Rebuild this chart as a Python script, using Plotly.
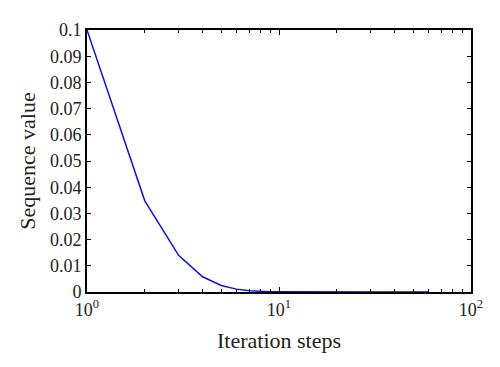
import plotly.graph_objects as go

iterations = [1, 2, 3, 4, 5, 6, 7, 8, 9, 10, 12, 15, 20, 30, 40, 50, 60]
values = [0.1, 0.0348, 0.014, 0.0058, 0.0025, 0.0011, 0.0005, 0.0002, 0.0001, 0.00005,
          0.00001, 0.0, 0.0, 0.0, 0.0, 0.0, 0.0]

x_tickvals = [1, 10, 100]
x_ticktext = ["10<sup>0</sup>", "10<sup>1</sup>", "10<sup>2</sup>"]
x_minor = [2, 3, 4, 5, 6, 7, 8, 9, 20, 30, 40, 50, 60, 70, 80, 90]
y_tickvals = [0, 0.01, 0.02, 0.03, 0.04, 0.05, 0.06, 0.07, 0.08, 0.09, 0.1]
y_ticktext = ["0", "0.01", "0.02", "0.03", "0.04", "0.05", "0.06", "0.07", "0.08", "0.09", "0.1"]

fig = go.Figure(go.Scatter(x=iterations, y=values, mode="lines",
                           line=dict(color="#1010e0", width=1.5)))

font = dict(family="Liberation Serif, DejaVu Serif, serif", size=18, color="#222")
fig.update_layout(
    width=492, height=359,
    margin=dict(l=79, r=29, t=20, b=75),
    paper_bgcolor="white", plot_bgcolor="white",
    showlegend=False, font=font,
)
fig.update_xaxes(type="log", range=[0, 2], tickvals=x_tickvals, ticktext=x_ticktext,
                 ticks="inside", ticklen=5, tickcolor="black", showgrid=False,
                 showline=True, linecolor="black", linewidth=2, mirror="ticks",
                 minor=dict(tickvals=x_minor, ticks="inside", ticklen=3, tickcolor="black"),
                 title=dict(text="Iteration steps", standoff=14), zeroline=False)
fig.update_yaxes(range=[0, 0.1], tickvals=y_tickvals, ticktext=y_ticktext,
                 ticks="inside", ticklen=4, tickcolor="black", showgrid=False,
                 showline=True, linecolor="black", linewidth=2, mirror="ticks",
                 title=dict(text="Sequence value", standoff=8), zeroline=False)

fig.write_html("out.html")
